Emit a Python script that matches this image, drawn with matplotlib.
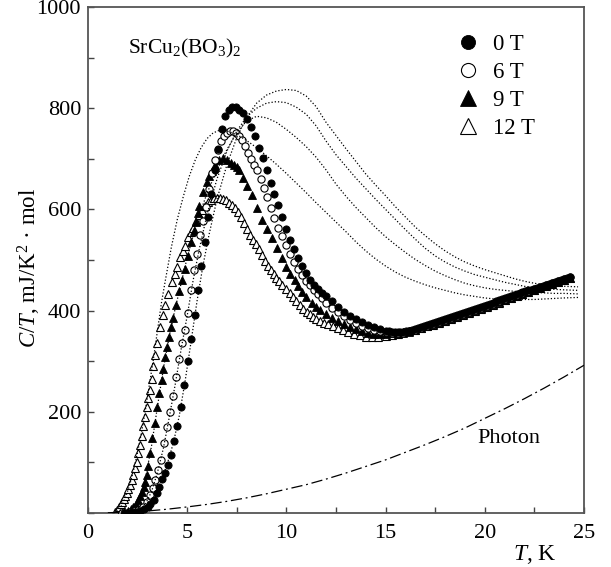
#!/usr/bin/env python3

import numpy as np
import matplotlib
matplotlib.use('Agg')
import matplotlib.pyplot as plt
from matplotlib.ticker import MultipleLocator

plt.rcParams['font.family'] = ['Liberation Serif', 'DejaVu Serif']
plt.rcParams['mathtext.fontset'] = 'custom'
plt.rcParams['mathtext.rm'] = 'Liberation Serif'
plt.rcParams['mathtext.it'] = 'Liberation Serif:italic'

# measured C/T (mJ/K^2 mol) vs T (K), four fields
t_0T = [1.8, 2.0, 2.2, 2.4, 2.6, 2.8, 3.0, 3.15, 3.33, 3.46, 3.6, 3.75, 3.9, 4.05, 4.2,
        4.35, 4.5, 4.67, 4.85, 5.03, 5.2, 5.38, 5.55, 5.72, 5.88, 6.05, 6.22, 6.4, 6.57, 6.75,
        6.93, 7.1, 7.27, 7.45, 7.62, 7.8, 8.0, 8.2, 8.4, 8.6, 8.8, 9.0, 9.2, 9.4, 9.6,
        9.8, 10.0, 10.2, 10.4, 10.6, 10.8, 11.0, 11.2, 11.4, 11.6, 11.8, 12.0, 12.3, 12.6, 12.9,
        13.2, 13.5, 13.8, 14.1, 14.4, 14.7, 15.0]
c_0T = [0, 0, 1, 2, 4, 7, 12, 18, 26, 39, 52, 67, 80, 95, 115,
        142, 171, 210, 252, 300, 343, 392, 440, 488, 535, 585, 630, 678, 720, 758,
        785, 797, 802, 802, 797, 790, 778, 762, 745, 722, 702, 677, 652, 630, 609,
        585, 562, 540, 521, 504, 489, 474, 460, 450, 442, 435, 428, 418, 408, 398,
        390, 383, 377, 371, 367, 363, 360]

t_6T = [1.7, 1.9, 2.1, 2.3, 2.5, 2.65, 2.79, 2.96, 3.13, 3.26, 3.38, 3.55, 3.7, 3.85, 4.0,
        4.15, 4.3, 4.45, 4.6, 4.75, 4.9, 5.05, 5.2, 5.35, 5.5, 5.65, 5.8, 5.95, 6.1, 6.25,
        6.4, 6.55, 6.7, 6.85, 7.0, 7.15, 7.3, 7.45, 7.6, 7.75, 7.9, 8.05, 8.2, 8.35, 8.5,
        8.7, 8.85, 9.0, 9.2, 9.4, 9.6, 9.8, 10.0, 10.2, 10.4, 10.6, 10.8, 11.0, 11.2, 11.4,
        11.6, 11.8, 12.0, 12.3, 12.6, 12.9, 13.2, 13.5, 13.8, 14.1, 14.4, 14.7, 15.0]
c_6T = [0, 0, 1, 3, 5, 8, 12, 22, 36, 49, 65, 85, 105, 138, 170,
        200, 232, 268, 305, 335, 362, 395, 440, 480, 512, 550, 578, 605, 640, 672,
        698, 718, 735, 745, 751, 754, 754, 751, 745, 738, 725, 712, 700, 688, 677,
        660, 642, 624, 602, 583, 564, 547, 530, 512, 496, 482, 470, 459, 450, 441,
        432, 424, 416, 406, 397, 389, 382, 376, 370, 366, 362, 359, 357]

t_9T = [1.6, 1.8, 2.0, 2.15, 2.28, 2.4, 2.54, 2.63, 2.71, 2.8, 2.87, 2.95, 3.03, 3.13, 3.24,
        3.38, 3.49, 3.6, 3.71, 3.8, 3.9, 4.0, 4.1, 4.2, 4.3, 4.45, 4.6, 4.75, 4.9, 5.05,
        5.2, 5.33, 5.44, 5.53, 5.61, 5.8, 5.98, 6.12, 6.23, 6.4, 6.6, 6.82, 7.0, 7.2, 7.36,
        7.5, 7.63, 7.83, 8.03, 8.25, 8.5, 8.75, 9.0, 9.26, 9.51, 9.76, 10.0, 10.2, 10.43, 10.6,
        10.8, 11.0, 11.27, 11.5, 11.7, 12.0, 12.3, 12.6, 12.9, 13.2, 13.5, 13.8, 14.1, 14.4, 14.7,
        15.0]
c_9T = [0, 1, 4, 8, 12, 18, 26, 34, 42, 52, 62, 75, 92, 118, 148,
        177, 210, 237, 263, 285, 308, 328, 348, 367, 385, 412, 438, 460, 482, 508,
        535, 558, 576, 592, 607, 635, 655, 666, 675, 688, 697, 701, 698, 692, 688,
        683, 678, 663, 646, 628, 602, 580, 562, 543, 523, 503, 487, 473, 460, 449,
        437, 427, 416, 408, 402, 394, 386, 379, 373, 368, 363, 359, 356, 354, 353,
        353]

t_12T = [1.35, 1.45, 1.55, 1.65, 1.73, 1.8, 1.88, 1.95, 2.03, 2.12, 2.2, 2.28, 2.36, 2.45, 2.54,
         2.62, 2.71, 2.79, 2.87, 2.96, 3.04, 3.12, 3.21, 3.3, 3.4, 3.49, 3.63, 3.76, 3.9, 4.05,
         4.22, 4.36, 4.5, 4.64, 4.77, 4.89, 5.06, 5.18, 5.31, 5.45, 5.6, 5.75, 5.9, 6.07, 6.2,
         6.35, 6.5, 6.65, 6.8, 6.95, 7.1, 7.25, 7.41, 7.55, 7.7, 7.85, 8.0, 8.15, 8.3, 8.45,
         8.6, 8.75, 8.9, 9.05, 9.2, 9.35, 9.5, 9.65, 9.8, 10.0, 10.2, 10.35, 10.5, 10.69, 10.85,
         11.02, 11.2, 11.36, 11.5, 11.69, 11.9, 12.1, 12.35, 12.6, 12.85, 13.1, 13.4, 13.7, 14.0, 14.3,
         14.6, 15.0]
c_12T = [2, 6, 11, 17, 22, 27, 33, 39, 47, 56, 65, 76, 88, 101, 118,
         134, 152, 171, 190, 210, 227, 244, 265, 290, 313, 335, 368, 392, 412, 432,
         457, 472, 487, 505, 517, 528, 546, 555, 564, 578, 588, 598, 607, 615, 619,
         622, 623, 623, 621, 618, 613, 608, 602, 594, 585, 574, 562, 550, 540, 531,
         521, 510, 499, 489, 480, 472, 465, 458, 451, 443, 434, 427, 419, 411, 404,
         398, 393, 388, 384, 380, 376, 373, 369, 365, 361, 358, 354, 351, 348, 347,
         347, 349]

# above ~15 K the four data sets run together into one dense band
t_tail = [15.3, 15.6, 15.9, 16.2, 16.5, 16.8, 17.1, 17.4, 17.7, 18.0, 18.3, 18.6, 18.9, 19.2, 19.5,
          19.8, 20.1, 20.4, 20.7, 21.0, 21.3, 21.6, 21.9, 22.2, 22.5, 22.8, 23.1, 23.4, 23.7, 24.0,
          24.3]
c_tail_6T = [356, 355, 356, 359, 362, 366, 370, 374, 378, 382, 386, 390, 394, 398, 402,
             406, 410, 414, 418, 422, 426, 430, 434, 438, 442, 446, 450, 454, 458, 462, 466]
c_tail_9T = [355, 355, 356, 358, 361, 365, 369, 373, 377, 381, 385, 389, 393, 397, 401,
             405, 409, 413, 417, 421, 425, 429, 433, 437, 441, 445, 449, 453, 457, 461, 465]
c_tail_12T = [352, 354, 357, 359, 362, 365, 369, 372, 376, 380, 384, 388, 392, 396, 400,
              404, 408, 412, 416, 420, 424, 428, 432, 436, 440, 444, 448, 452, 456, 460, 464]

t_tail_0T = [15.15, 15.3, 15.45, 15.6, 15.75, 15.9, 16.05, 16.2, 16.35, 16.5, 16.65, 16.8, 16.95,
             17.1, 17.25, 17.4, 17.55, 17.7, 17.85, 18.0, 18.15, 18.3, 18.45, 18.6, 18.75, 18.9,
             19.05, 19.2, 19.35, 19.5, 19.65, 19.8, 19.95, 20.1, 20.25, 20.4, 20.55, 20.7, 20.85,
             21.0, 21.15, 21.3, 21.45, 21.6, 21.75, 21.9, 22.05, 22.2, 22.35, 22.5, 22.65, 22.8,
             22.95, 23.1, 23.25, 23.4, 23.55, 23.7, 23.85, 24.0, 24.15, 24.3]
c_tail_0T = [359, 358, 357, 357, 357, 358, 359, 360, 362, 364, 366, 368, 370,
             372, 374, 376, 378, 380, 382, 384, 386, 388, 390, 392, 394, 396,
             398, 400, 402, 404, 406, 408, 410, 412, 414, 416, 418, 420, 422,
             424, 426, 428, 430, 432, 434, 436, 438, 440, 441, 443, 445, 447,
             449, 451, 453, 455, 457, 459, 461, 463, 465, 467]

# model curves (dotted)
tf_0T = [2.4, 2.8, 3.1, 3.4, 3.7, 4.0, 4.3, 4.6, 4.9, 5.2, 5.5, 5.8, 6.1, 6.5, 7.0,
         7.5, 8.0, 8.5, 9.0, 9.5, 10.0, 10.5, 11.0, 11.5, 12.0, 12.5, 13.0, 13.5, 14.0, 14.5,
         15.0, 15.5, 16.0, 16.5, 17.0, 17.5, 18.0, 18.5, 19.0, 19.5, 20.0, 20.5, 21.0, 21.5, 22.0,
         22.5, 23.0, 23.5, 24.0, 24.7]
cf_0T = [0, 4, 13, 32, 62, 98, 138, 192, 262, 340, 420, 490, 550, 620, 688,
         742, 782, 810, 826, 834, 837, 835, 824, 803, 772, 746, 720, 695, 670, 648,
         627, 605, 585, 565, 548, 532, 518, 506, 496, 488, 481, 475, 469, 463, 458,
         454, 451, 449, 448, 447]

tf_6T = [2.6, 2.9, 3.2, 3.5, 3.8, 4.1, 4.4, 4.7, 5.0, 5.3, 5.6, 6.0, 6.5, 7.0, 7.5,
         8.0, 8.5, 9.0, 9.5, 10.0, 10.5, 11.0, 11.5, 12.0, 12.5, 13.0, 13.5, 14.0, 14.5, 15.0,
         15.5, 16.0, 16.5, 17.0, 17.5, 18.0, 18.5, 19.0, 19.5, 20.0, 20.5, 21.0, 21.5, 22.0, 22.5,
         23.0, 23.5, 24.0, 24.7]
cf_6T = [2, 18, 42, 80, 128, 190, 255, 325, 390, 460, 520, 590, 660, 715, 755,
         783, 800, 810, 813, 811, 802, 788, 765, 735, 708, 685, 662, 641, 620, 600,
         580, 560, 541, 523, 508, 496, 486, 478, 471, 466, 461, 456, 452, 448, 445,
         443, 442, 441, 440]

tf_9T = [2.0, 2.3, 2.6, 2.9, 3.2, 3.5, 3.8, 4.1, 4.4, 4.7, 5.0, 5.3, 5.6, 6.0, 6.5,
         7.0, 7.5, 8.0, 8.5, 9.0, 9.5, 10.0, 10.5, 11.0, 11.5, 12.0, 12.5, 13.0, 13.5, 14.0,
         14.5, 15.0, 15.5, 16.0, 16.5, 17.0, 17.5, 18.0, 18.5, 19.0, 19.5, 20.0, 20.5, 21.0, 21.5,
         22.0, 22.5, 23.0, 23.5, 24.0, 24.7]
cf_9T = [3, 13, 32, 70, 132, 210, 285, 350, 405, 455, 505, 548, 588, 632, 678,
         718, 752, 775, 784, 781, 772, 758, 742, 724, 703, 678, 650, 626, 604, 584,
         564, 546, 530, 515, 501, 489, 478, 469, 461, 454, 449, 445, 442, 440, 438,
         437, 436, 435, 434, 434, 433]

tf_12T = [1.3, 1.5, 1.7, 1.9, 2.1, 2.3, 2.5, 2.7, 2.9, 3.1, 3.3, 3.5, 3.7, 3.9, 4.2,
          4.5, 4.8, 5.1, 5.4, 5.7, 6.0, 6.3, 6.6, 7.0, 7.5, 8.0, 8.5, 9.0, 9.5, 10.0,
          10.5, 11.0, 11.5, 12.0, 12.5, 13.0, 13.5, 14.0, 14.5, 15.0, 15.5, 16.0, 16.5, 17.0, 17.5,
          18.0, 18.5, 19.0, 19.5, 20.0, 20.5, 21.0, 21.5, 22.0, 22.5, 23.0, 23.5, 24.0, 24.7]
cf_12T = [0, 5, 15, 32, 55, 85, 120, 160, 205, 255, 305, 360, 415, 460, 525,
          580, 625, 665, 697, 722, 740, 751, 756, 755, 748, 736, 722, 706, 689, 671,
          652, 633, 613, 594, 575, 556, 536, 518, 502, 488, 476, 466, 458, 451, 445,
          440, 435, 431, 428, 425, 423, 422, 422, 422, 422, 423, 424, 425, 426]

# phonon contribution (dash-dot)
t_ph = [1, 2, 3, 4, 5, 6, 7, 8, 9, 10, 11, 12, 13, 14, 15, 16, 17, 18, 19, 20, 21, 22, 23, 24, 25]
c_ph = [0.5, 2, 4, 7.5, 12, 17, 23, 30, 38, 47, 56, 67, 79, 92, 105, 120, 135, 151, 168, 187,
        206, 226, 247, 269, 292]

fig = plt.figure(figsize=(6.11, 5.67), dpi=100)
ax = fig.add_axes([88 / 611, 54 / 567, 496 / 611, 506 / 567])

ms_c = 5.2
ms_t = 5.8
ax.plot(t_12T + t_tail, c_12T + c_tail_12T, ls='none', marker='^', ms=ms_t,
        mfc='white', mec='black', mew=0.8, label='12 T', zorder=2)
ax.plot(t_9T + t_tail, c_9T + c_tail_9T, ls='none', marker='^', ms=ms_t,
        mfc='black', mec='black', mew=0.6, label='9 T', zorder=3)
ax.plot(t_6T + t_tail, c_6T + c_tail_6T, ls='none', marker='o', ms=ms_c,
        mfc='white', mec='black', mew=0.8, label='6 T', zorder=4)
ax.plot(t_0T + t_tail_0T, c_0T + c_tail_0T, ls='none', marker='o', ms=ms_c,
        mfc='black', mec='black', mew=0.6, label='0 T', zorder=5)

dots = (0, (1, 1.6))
for tf, cf in [(tf_0T, cf_0T), (tf_6T, cf_6T), (tf_9T, cf_9T), (tf_12T, cf_12T)]:
    ax.plot(tf, cf, color='black', lw=0.9, ls=dots, zorder=6)

ax.plot(t_ph, c_ph, color='black', lw=0.9, ls=(0, (9, 3, 1.5, 3)), zorder=6)

ax.set_xlim(0, 25)
ax.set_ylim(0, 1000)
ax.xaxis.set_major_locator(MultipleLocator(5))
ax.xaxis.set_minor_locator(MultipleLocator(2.5))
ax.set_yticks([0, 200, 400, 600, 800, 1000])
ax.set_yticklabels(['', '200', '400', '600', '800', '1000'])
ax.yaxis.set_minor_locator(MultipleLocator(100))
ax.tick_params(which='both', direction='in', length=4.3, width=1.0, color='#444444',
               top=False, right=False)
ax.tick_params(axis='both', labelsize=16)
ax.tick_params(axis='y', pad=5)
ax.tick_params(axis='x', pad=8)
for s in ax.spines.values():
    s.set_color('#555555')
    s.set_linewidth(1.3)

ax.set_ylabel('$C/T$, mJ/K$^2$ · mol', fontsize=16.5)
ax.yaxis.set_label_coords(-0.09, 0.485)
ax.text(0.9, -0.083, '$T$, K', transform=ax.transAxes, ha='center', va='center', fontsize=17)

ax.text(0.081, 0.919, 'SrCu$_2$(BO$_3$)$_2$', transform=ax.transAxes,
        ha='left', va='center', fontsize=15.5)
ax.text(21.2, 148, 'Photon', ha='center', va='center', fontsize=16)

h, l = ax.get_legend_handles_labels()
ax.legend(h[::-1], l[::-1], loc='upper left', bbox_to_anchor=(0.744, 0.947),
          frameon=False, fontsize=16.5, markerscale=1.95, handlelength=1.0,
          handletextpad=0.55, labelspacing=0.3, borderpad=0, borderaxespad=0)

fig.savefig('out.png', dpi=100)
